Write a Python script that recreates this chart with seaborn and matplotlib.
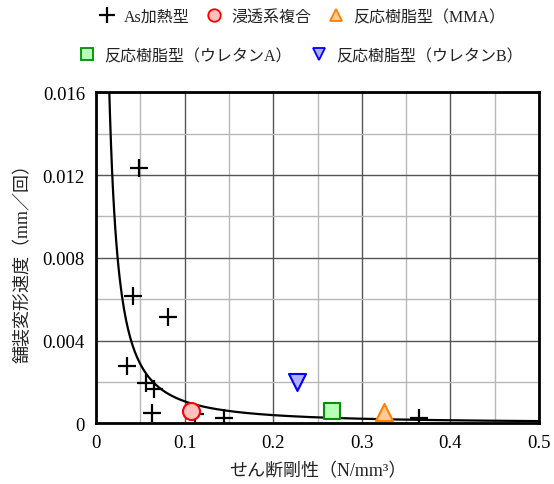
import numpy as np
import pandas as pd
import matplotlib
matplotlib.use("Agg")
import matplotlib.pyplot as plt
from matplotlib.lines import Line2D
from matplotlib.ticker import MultipleLocator
import seaborn as sns

# ---- data ----
as_x = [0.0485, 0.042, 0.0816, 0.0355, 0.0562, 0.0655, 0.0636, 0.1116, 0.144, 0.364]
as_y = [0.01233, 0.00617, 0.00512, 0.00278, 0.00193, 0.00166, 0.00050, 0.00044, 0.00025, 0.00024]
shin_x = [0.1074]
shin_y = [0.00061]
mma_x = [0.3247]
mma_y = [0.00053]
uA_x = [0.2666]
uA_y = [0.00058]
uB_x = [0.2265]
uB_y = [0.00201]
# power trendline y = a * x^b (coefficients)
trend_a = 3.95e-5
trend_b = -1.43

labels = ["As加熱型", "浸透系複合", "反応樹脂型（MMA）", "反応樹脂型（ウレタンA）", "反応樹脂型（ウレタンB）"]

sns.set_theme(style="white")
FAM = ["Liberation Serif", "Noto Sans CJK JP", "DejaVu Sans"]
plt.rcParams["font.family"] = FAM

fig = plt.figure(figsize=(5.54, 4.85), dpi=100)
ax = fig.add_axes([96/554, 1-424.3/485, (539-96)/554, (424.3-93.3)/485])

# grid
ax.xaxis.set_major_locator(MultipleLocator(0.1))
ax.xaxis.set_minor_locator(MultipleLocator(0.05))
ax.yaxis.set_major_locator(MultipleLocator(0.004))
ax.yaxis.set_minor_locator(MultipleLocator(0.002))
ax.grid(which="major", color="#555555", linewidth=1.0)
ax.grid(which="minor", color="#b8b8b8", linewidth=1.0)
ax.set_axisbelow(True)

# trendline
tx = np.linspace(0.012, 0.5, 400)
trend = pd.DataFrame({"x": tx, "y": trend_a * tx ** trend_b})
sns.lineplot(data=trend, x="x", y="y", ax=ax, color="black", linewidth=1.6, zorder=3)

# series
series = [
    (as_x, as_y, dict(marker="+", s=150, color="black", linewidth=1.6)),
    (shin_x, shin_y, dict(marker="o", s=150, facecolor="#ffc0c0", edgecolor="#ff0000", linewidth=1.5)),
    (mma_x, mma_y, dict(marker="^", s=150, facecolor="#ffcc99", edgecolor="#ff8000", linewidth=1.5)),
    (uA_x, uA_y, dict(marker="s", s=120, facecolor="#b8ffb8", edgecolor="#009000", linewidth=1.5)),
    (uB_x, uB_y, dict(marker="v", s=150, facecolor="#b0b0ff", edgecolor="#0000ff", linewidth=1.5)),
]
for xs, ys, kw in series:
    df = pd.DataFrame({"x": xs, "y": ys})
    sns.scatterplot(data=df, x="x", y="y", ax=ax, zorder=4, legend=False, **kw)

ax.set_xlim(0, 0.5)
ax.set_ylim(0, 0.016)
ax.set_xticks([0, 0.1, 0.2, 0.3, 0.4, 0.5])
ax.set_xticklabels(["0", "0.1", "0.2", "0.3", "0.4", "0.5"])
ax.set_yticks([0, 0.004, 0.008, 0.012, 0.016])
ax.set_yticklabels(["0", "0.004", "0.008", "0.012", "0.016"])
ax.tick_params(axis="both", which="both", length=0, labelsize=13.5, pad=8, colors="black")
for sp in ax.spines.values():
    sp.set_visible(True)
    sp.set_color("black")
    sp.set_linewidth(2.0)

ax.set_xlabel("せん断剛性（N/mm³）", fontsize=13, labelpad=8, color="#222222")
ax.set_ylabel("舗装変形速度（mm／回）", fontsize=13, labelpad=8, color="#222222")

# legend (two rows)
h = [
    Line2D([], [], marker="+", color="black", linestyle="none", markersize=11, markeredgewidth=1.6),
    Line2D([], [], marker="o", markerfacecolor="#ffc0c0", markeredgecolor="#ff0000", linestyle="none", markersize=9, markeredgewidth=1.3),
    Line2D([], [], marker="^", markerfacecolor="#ffcc99", markeredgecolor="#ff8000", linestyle="none", markersize=9, markeredgewidth=1.3),
    Line2D([], [], marker="s", markerfacecolor="#b8ffb8", markeredgecolor="#009000", linestyle="none", markersize=8, markeredgewidth=1.3),
    Line2D([], [], marker="v", markerfacecolor="#b0b0ff", markeredgecolor="#0000ff", linestyle="none", markersize=9, markeredgewidth=1.3),
]
leg1 = fig.legend(h[:3], labels[:3], loc="center", bbox_to_anchor=(0.545, 1-18/485), ncol=3,
                  frameon=False, fontsize=11.5, handlelength=1.0, handletextpad=0.6, columnspacing=1.0)
leg2 = fig.legend(h[3:], labels[3:], loc="center", bbox_to_anchor=(0.543, 1-57/485), ncol=2,
                  frameon=False, fontsize=11.5, handlelength=1.0, handletextpad=0.6, columnspacing=1.2)
for lg in (leg1, leg2):
    for t in lg.get_texts():
        t.set_color("#222222")

fig.savefig("out.png", dpi=100)
